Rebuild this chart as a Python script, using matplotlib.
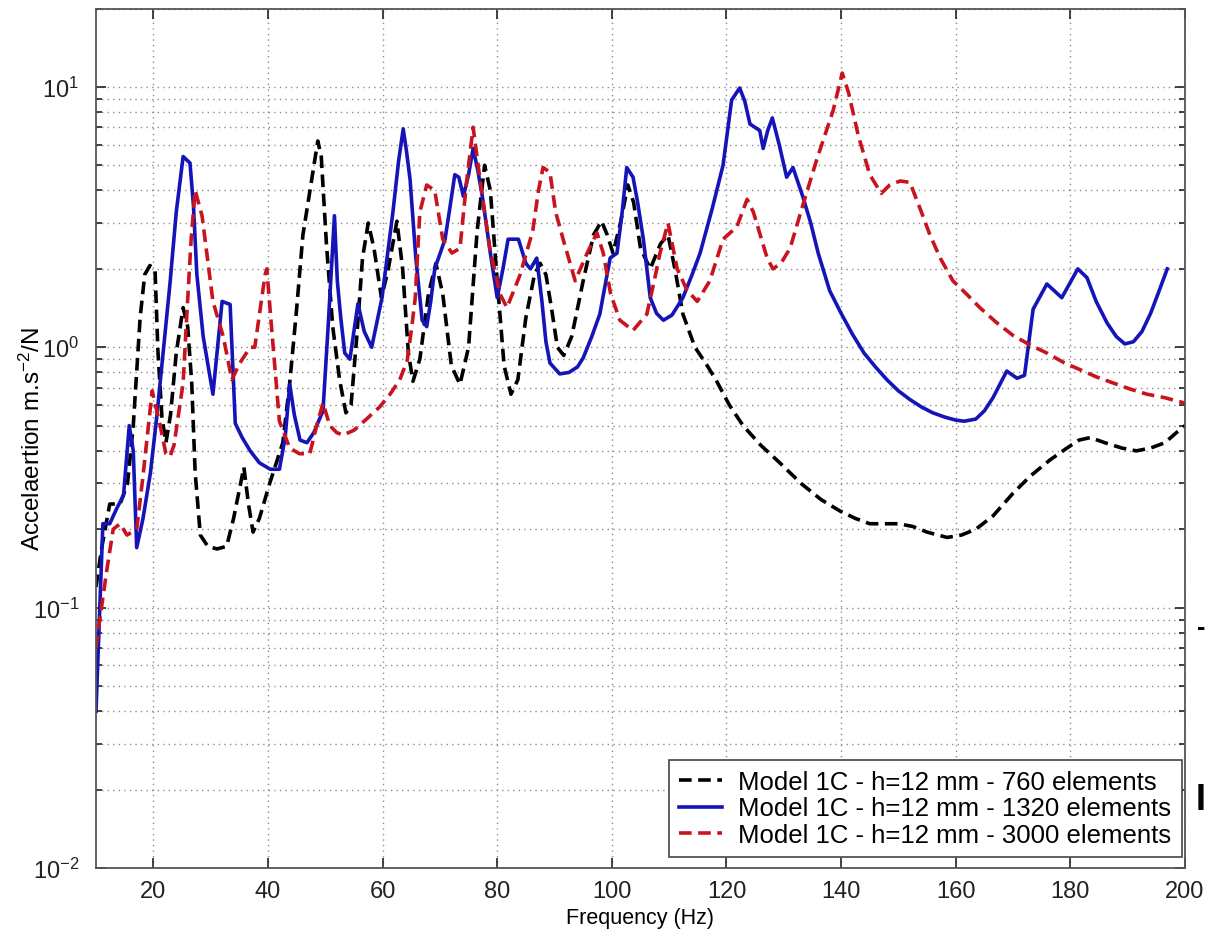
import matplotlib
matplotlib.use("Agg")
import matplotlib.pyplot as plt
from matplotlib.ticker import LogLocator, NullFormatter, FixedLocator

plt.rcParams['font.family'] = ['Liberation Sans', 'DejaVu Sans']
plt.rcParams['mathtext.default'] = 'regular'

# Model 1C - 760 elements (black dashed)
f_760 = [10, 11, 12.4, 14.2, 15.5, 16.5, 17.7, 18.5, 19.4, 20.3, 20.8, 21.5, 22.2, 23, 24,
         25.2, 26, 26.7, 27.3, 28.2, 29.5, 31.1, 32.8, 34, 35.8, 36.6, 37.4, 38.5, 40.3, 42.6,
         43.8, 45, 46.1, 47.9, 48.7, 49.3, 50.2, 51.3, 52.5, 53.6, 54.5, 55.5, 56.5, 57.5, 58.5,
         59.8, 61, 62.5, 63.5, 64.5, 65.3, 66.5, 68, 69.3, 70.5, 72, 73.5, 75, 76.5, 77.8,
         78.8, 80, 81.2, 82.4, 83.6, 85, 86.5, 87.5, 88.5, 89.5, 90.5, 91.6, 93, 95, 96.8,
         98.2, 99.2, 100.2, 101.5, 102.8, 103.8, 105, 106.7, 108.5, 109.8, 111, 112.4, 114.5,
         116.5, 118.3, 120.5, 122.9, 126, 129.3, 133, 136.5, 139.8, 142.5, 145, 147.5, 150,
         152.5, 155, 158.5, 161, 163.5, 166.5, 170, 173, 176.5, 179.4, 181.5, 183.5, 186, 189,
         191.5, 194, 196.5, 198.5, 200]
a_760 = [0.12, 0.17, 0.25, 0.25, 0.3, 0.5, 1.3, 1.9, 2.06, 1.98, 0.97, 0.54, 0.43, 0.55, 0.95,
         1.42, 1.2, 0.73, 0.33, 0.19, 0.172, 0.168, 0.172, 0.22, 0.346, 0.25, 0.195, 0.22, 0.30, 0.43,
         0.73, 1.4, 2.7, 4.8, 6.2, 5.4, 2.5, 1.2, 0.75, 0.56, 0.6, 1.1, 2.2, 3.0, 2.4,
         1.55, 2.0, 3.05, 2.0, 0.95, 0.74, 0.9, 1.6, 2.1, 1.6, 0.85, 0.72, 1.0, 2.8, 5.0,
         4.0, 1.8, 0.85, 0.66, 0.75, 1.3, 1.9, 2.1, 1.9, 1.4, 1.0, 0.93, 1.1, 1.8, 2.7,
         3.05, 2.7, 2.3, 3.0, 4.2, 3.6, 2.4, 2.0, 2.5, 2.7, 2.0, 1.34, 1.0,
         0.86, 0.74, 0.6, 0.5, 0.42, 0.36, 0.3, 0.26, 0.235, 0.22, 0.21, 0.21, 0.21,
         0.205, 0.195, 0.186, 0.19, 0.2, 0.225, 0.275, 0.32, 0.37, 0.41, 0.44, 0.45, 0.43, 0.41,
         0.40, 0.41, 0.43, 0.47, 0.50]

# Model 1C - 1320 elements (blue solid)
f_1320 = [10, 10.5, 11.2, 12.4, 13.6, 14.8, 15.8, 16.5, 17.1, 18.2, 19.5, 20.6, 22, 22.9, 24,
          25.2, 26.4, 27, 27.6, 28.7, 30.4, 31.2, 32, 33.4, 34.3, 35.5, 36.9, 38.5, 40.4, 42,
          43, 43.8, 44.6, 45.6, 46.8, 48, 49.6, 50.5, 51.6, 52.1, 52.7, 53.4, 54.3, 55.7, 56.8,
          58.1, 59.9, 61, 61.8, 62.8, 63.6, 64.2, 64.8, 65.8, 66.9, 67.7, 68.4, 69.1, 70.9, 71.8,
          72.6, 73.3, 74.1, 75, 75.8, 76.6, 77.4, 78.8, 80, 81, 81.9, 83.7, 85, 85.8, 86.9,
          87.8, 88.5, 89.2, 90.9, 92.5, 94, 95, 96.5, 97.9, 99.7, 100.9, 101.8, 102.6, 103.7,
          104.5, 105.5, 106.7, 107.8, 109, 110.5, 112.4, 114, 115.4, 117.5, 119.4, 120.9, 122.3,
          123.2, 124.1, 125.8, 126.4, 127.2, 128, 129.2, 130.5, 131.6, 133.3, 134.7, 136, 138,
          140, 142, 144, 146, 148, 150, 152, 154, 156, 158, 160, 161.5, 163.5, 165, 166.5,
          168.9, 170.7, 172, 173.5, 175.9, 178.5, 181.3, 182.9, 184.5, 186.4, 188, 189.5, 191,
          192.5, 194, 195.5, 196.9]
a_1320 = [0.04, 0.08, 0.21, 0.21, 0.24, 0.27, 0.50, 0.40, 0.17, 0.22, 0.33, 0.54, 1.1, 1.75, 3.3,
          5.4, 5.1, 3.5, 1.9, 1.1, 0.66, 1.0, 1.5, 1.46, 0.51, 0.45, 0.40, 0.36, 0.34, 0.34,
          0.45, 0.72, 0.55, 0.44, 0.43, 0.47, 0.57, 1.2, 3.2, 1.8, 1.3, 0.95, 0.9, 1.47, 1.15,
          1.0, 1.55, 2.4, 3.3, 5.2, 6.9, 5.6, 4.4, 2.2, 1.27, 1.2, 1.5, 2.0, 2.6, 3.5,
          4.6, 4.5, 3.8, 4.6, 5.8, 4.8, 3.8, 2.3, 1.55, 2.0, 2.6, 2.6, 2.1, 2.0, 2.2,
          1.5, 1.05, 0.87, 0.79, 0.8, 0.84, 0.91, 1.1, 1.34, 2.2, 2.3, 3.3, 4.9, 4.5,
          3.6, 2.6, 1.55, 1.35, 1.27, 1.33, 1.55, 1.9, 2.3, 3.4, 5.0, 8.9, 9.9,
          8.8, 7.2, 6.8, 5.8, 6.8, 7.6, 6.0, 4.5, 4.9, 3.8, 3.0, 2.3, 1.65,
          1.35, 1.12, 0.95, 0.84, 0.75, 0.68, 0.63, 0.59, 0.56, 0.54, 0.525, 0.52, 0.53, 0.57, 0.64,
          0.81, 0.76, 0.78, 1.4, 1.75, 1.55, 2.0, 1.85, 1.5, 1.24, 1.1, 1.03, 1.05,
          1.15, 1.35, 1.65, 2.0]

# Model 1C - 3000 elements (red dashed)
f_3000 = [10, 10.5, 11.9, 13, 14.2, 15.4, 17.1, 18.2, 19.8, 21.2, 22.2, 22.9, 23.6, 25.2, 25.9,
          26.6, 27.3, 28.5, 30.4, 32.2, 33.7, 35.1, 36.9, 37.7, 39.5, 39.8, 40.7, 42, 43.8, 45.5,
          47.3, 48.5, 49.6, 50.8, 52, 53.1, 55, 57.2, 59.5, 61.3, 63, 64.3, 65.1, 65.7, 66.5,
          67.7, 69.1, 70.5, 72.1, 73.5, 74.7, 75.8, 77, 78.7, 80.5, 81.7, 84, 86.2, 87.2, 88,
          89.2, 90.2, 91.5, 93.6, 95.7, 97.4, 98.5, 99.8, 101.4, 103.7, 106.1, 107.4, 108.4,
          109.8, 111.4, 113.1, 114.9, 117.1, 119.4, 121.8, 123.6, 124.7, 127.1, 128.1, 129.5,
          131.1, 133.3, 135.8, 138.6, 140.2, 141.3, 143, 145, 147, 148.5, 150.3, 152, 153.8,
          155.5, 157.3, 159.5, 161.9, 164.2, 167, 170, 173, 175.9, 179, 181.7, 184.5, 187.4,
          190.5, 193.4, 196.5, 200]
a_3000 = [0.07, 0.085, 0.14, 0.20, 0.21, 0.19, 0.20, 0.32, 0.68, 0.5, 0.39, 0.38, 0.42, 0.73, 1.4,
          2.6, 4.0, 3.2, 1.5, 1.1, 0.75, 0.87, 1.0, 1.0, 1.9, 2.0, 1.14, 0.52, 0.41, 0.39,
          0.39, 0.5, 0.61, 0.5, 0.47, 0.46, 0.48, 0.53, 0.59, 0.66, 0.75, 0.89, 1.2, 1.55, 3.3,
          4.2, 4.0, 2.6, 2.3, 2.4, 4.4, 7.0, 4.4, 2.4, 1.6, 1.42, 1.9, 2.8, 4.0, 4.9,
          4.7, 3.3, 2.6, 1.8, 2.3, 2.75, 2.3, 1.6, 1.27, 1.16, 1.34, 1.8, 2.3,
          3.0, 2.0, 1.66, 1.5, 1.8, 2.6, 2.9, 3.7, 3.3, 2.2, 2.0, 2.1,
          2.4, 3.5, 5.3, 8.1, 11.3, 9.5, 6.5, 4.6, 3.9, 4.2, 4.35, 4.3, 3.4,
          2.7, 2.2, 1.8, 1.6, 1.42, 1.25, 1.11, 1.02, 0.95, 0.87, 0.82, 0.77, 0.73,
          0.69, 0.66, 0.64, 0.61]

x_ticks = [20, 40, 60, 80, 100, 120, 140, 160, 180, 200]

fig = plt.figure(figsize=(12.05, 9.37), dpi=100)
ax = fig.add_axes([96 / 1205, 68 / 937, 1089 / 1205, 859.5 / 937])

ax.plot(f_760, a_760, color='black', lw=2.6, linestyle=(0, (3.5, 1.8)),
        label='Model 1C - h=12 mm - 760 elements')
ax.plot(f_1320, a_1320, color='#1414b8', lw=2.6, linestyle='-',
        label='Model 1C - h=12 mm - 1320 elements')
ax.plot(f_3000, a_3000, color='#c8141e', lw=2.6, linestyle=(0, (3.5, 1.8)),
        label='Model 1C - h=12 mm - 3000 elements')

ax.set_yscale('log')
ax.set_xlim(10, 200)
ax.set_ylim(0.01, 20)
ax.xaxis.set_major_locator(FixedLocator(x_ticks))
ax.yaxis.set_major_locator(LogLocator(base=10, numticks=10))
ax.yaxis.set_minor_locator(LogLocator(base=10, subs=range(2, 10), numticks=20))
ax.yaxis.set_minor_formatter(NullFormatter())

# matlab-like dotted grid
grid_style = dict(color='#8c8c8c', linestyle=(0, (1, 3)), linewidth=1.0)
ax.grid(True, which='major', axis='both', **grid_style)
ax.grid(True, which='minor', axis='y', **grid_style)

ax.tick_params(which='both', direction='in', top=True, right=True, labelsize=17, colors='#222222')
ax.tick_params(which='major', length=7, width=1.2)
ax.tick_params(which='minor', length=4, width=1.2)
ax.tick_params(axis='x', pad=9)
ax.tick_params(axis='y', pad=12)
for s in ax.spines.values():
    s.set_color('#555555')
    s.set_linewidth(1.3)

ax.set_xlabel('Frequency (Hz)', fontsize=15.5, labelpad=3)
ax.set_ylabel('Accelaertion m.s$^{-2}$/N', fontsize=17.5)
ax.yaxis.set_label_coords(-0.047, 0.5)

leg = ax.legend(loc='lower right', bbox_to_anchor=(0.997, 0.013), borderaxespad=0,
                fontsize=18.5, handlelength=1.65, handletextpad=0.65, labelspacing=0.08,
                borderpad=0.4, fancybox=False, framealpha=1, edgecolor='#444444')
leg.get_frame().set_linewidth(1.2)

# stray marks at the right border of the original picture
fig.text(1197 / 1205, 1 - 628 / 937, '-', fontsize=18, fontweight='bold', va='center', ha='left')
fig.text(1196 / 1205, 1 - 800 / 937, 'I', fontsize=26, fontweight='bold', va='center', ha='left')

fig.savefig('out.png', dpi=100)
